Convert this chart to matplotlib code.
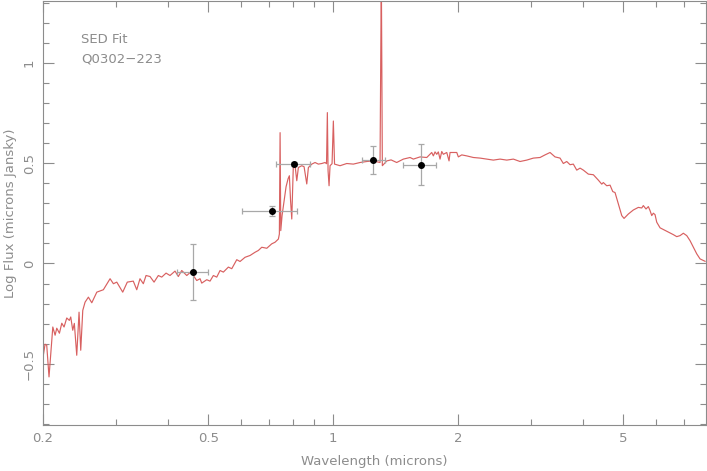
import matplotlib
matplotlib.use("Agg")
import matplotlib.pyplot as plt
from matplotlib.ticker import FixedLocator, NullFormatter, MultipleLocator
import numpy as np

# Model SED (wavelength in microns, log flux)
sed_wavelength = [
    0.2004, 0.2023, 0.2042, 0.2068, 0.2100, 0.2112, 0.2139, 0.2159, 0.2191, 0.2220,
    0.2248, 0.2282, 0.2315, 0.2333, 0.2359, 0.2380, 0.2412, 0.2443, 0.2466, 0.2494,
    0.2526, 0.2573, 0.2622, 0.2696, 0.2796, 0.2902, 0.2956, 0.3012, 0.3113, 0.3193,
    0.3301, 0.3365, 0.3426, 0.3490, 0.3543, 0.3622, 0.3704, 0.3793, 0.3865, 0.3959,
    0.4047, 0.4161, 0.4238, 0.4319, 0.4441, 0.4566, 0.4607, 0.4694, 0.4781, 0.4826,
    0.4962, 0.5053, 0.5147, 0.5245, 0.5342, 0.5441, 0.5594, 0.5701, 0.5861, 0.5969,
    0.6137, 0.6310, 0.6486, 0.6607, 0.6733, 0.6924, 0.7115, 0.7247, 0.7384, 0.7424,
    0.7454, 0.7482, 0.7536, 0.7620, 0.7705, 0.7792, 0.7848, 0.7900, 0.7953, 0.7989,
    0.8024, 0.8100, 0.8177, 0.8250, 0.8407, 0.8515, 0.8643, 0.8721, 0.8887, 0.9050,
    0.9217, 0.9393, 0.9566, 0.9645, 0.9689, 0.9727, 0.9781, 0.9835, 0.9945, 1.0017,
    1.0083, 1.0396, 1.0790, 1.1191, 1.1618, 1.2056, 1.2505, 1.2979, 1.3072, 1.3145,
    1.3473, 1.3799, 1.4235, 1.4770, 1.5329, 1.5614, 1.6204, 1.6818, 1.7290, 1.7446,
    1.7611, 1.7778, 1.7935, 1.8105, 1.8277, 1.8441, 1.8793, 1.9033, 1.9139, 1.9494,
    1.9866, 2.0042, 2.0424, 2.1000, 2.1783, 2.2610, 2.3465, 2.4340, 2.5259, 2.6219,
    2.7196, 2.8222, 2.9289, 3.0389, 3.1534, 3.2419, 3.3336, 3.4270, 3.5237, 3.5885,
    3.6568, 3.7249, 3.7933, 3.8657, 3.9376, 4.0101, 4.1233, 4.2390, 4.3581, 4.4412,
    4.4802, 4.5655, 4.6505, 4.7206, 4.7808, 4.8697, 4.9626, 5.0258, 5.1474, 5.2917,
    5.4408, 5.5445, 5.5933, 5.6776, 5.7511, 5.8056, 5.8608, 5.9124, 5.9685, 6.0256,
    6.1376, 6.3694, 6.6069, 6.7328, 6.8566, 6.9840, 7.1174, 7.2482, 7.3829, 7.5236,
    7.6618, 7.8780,
]
sed_logflux = [
    -0.458, -0.403, -0.408, -0.566, -0.383, -0.317, -0.358, -0.323, -0.348, -0.298,
    -0.317, -0.272, -0.284, -0.267, -0.333, -0.299, -0.458, -0.243, -0.433, -0.234,
    -0.193, -0.168, -0.196, -0.143, -0.131, -0.076, -0.101, -0.093, -0.143, -0.093,
    -0.088, -0.131, -0.076, -0.101, -0.060, -0.065, -0.093, -0.060, -0.068, -0.048,
    -0.060, -0.038, -0.065, -0.035, -0.060, -0.038, -0.060, -0.085, -0.076, -0.098,
    -0.081, -0.088, -0.060, -0.068, -0.035, -0.043, -0.018, -0.026, 0.019, 0.010,
    0.031, 0.040, 0.056, 0.065, 0.081, 0.076, 0.098, 0.106, 0.122, 0.147,
    0.653, 0.164, 0.239, 0.313, 0.383, 0.423, 0.438, 0.313, 0.222, 0.363,
    0.496, 0.488, 0.413, 0.479, 0.488, 0.483, 0.397, 0.479, 0.496, 0.504,
    0.496, 0.499, 0.504, 0.498, 0.753, 0.463, 0.388, 0.488, 0.498, 0.711,
    0.496, 0.488, 0.499, 0.496, 0.504, 0.509, 0.512, 0.504, 1.450, 0.488,
    0.512, 0.517, 0.504, 0.521, 0.529, 0.521, 0.532, 0.529, 0.554, 0.537,
    0.557, 0.545, 0.557, 0.521, 0.559, 0.545, 0.554, 0.512, 0.554, 0.554,
    0.554, 0.532, 0.542, 0.537, 0.529, 0.526, 0.521, 0.516, 0.521, 0.516,
    0.521, 0.509, 0.516, 0.526, 0.529, 0.542, 0.554, 0.532, 0.526, 0.499,
    0.509, 0.493, 0.496, 0.466, 0.476, 0.466, 0.446, 0.443, 0.416, 0.396,
    0.404, 0.388, 0.391, 0.359, 0.354, 0.297, 0.239, 0.225, 0.247, 0.267,
    0.280, 0.277, 0.289, 0.272, 0.284, 0.264, 0.239, 0.251, 0.244, 0.206,
    0.178, 0.161, 0.144, 0.134, 0.139, 0.151, 0.139, 0.114, 0.081, 0.048,
    0.023, 0.011,
]

# Photometry
phot_wavelength = [0.4607, 0.711, 0.8067, 1.251, 1.627]
phot_wave_lo = [0.4201, 0.605, 0.7289, 1.173, 1.477]
phot_wave_hi = [0.5006, 0.820, 0.8804, 1.335, 1.771]
phot_logflux = [-0.043, 0.264, 0.496, 0.516, 0.493]
phot_flux_lo = [-0.181, 0.239, 0.486, 0.446, 0.392]
phot_flux_hi = [0.098, 0.288, 0.506, 0.585, 0.596]

x_major = [0.2, 0.5, 1, 2, 5]
x_major_labels = ["0.2", "0.5", "1", "2", "5"]
x_minor = [0.3, 0.4, 0.6, 0.7, 0.8, 0.9, 3, 4, 6, 7]

grey = "#8c8c8c"
red = "#d86060"
fs = 9.5

fig = plt.figure(figsize=(7.07, 4.71), dpi=100)
ax = fig.add_axes([0.0608, 0.0977, 0.9378, 0.8993])

ax.plot(sed_wavelength, sed_logflux, color=red, lw=0.85, zorder=2)

pw = np.array(phot_wavelength)
pf = np.array(phot_logflux)
xerr = [pw - np.array(phot_wave_lo), np.array(phot_wave_hi) - pw]
yerr = [pf - np.array(phot_flux_lo), np.array(phot_flux_hi) - pf]
ax.errorbar(pw, pf, xerr=xerr, yerr=yerr, fmt="none", ecolor="#a8a8a8",
            elinewidth=0.9, capsize=2, capthick=0.9, zorder=3)
ax.plot(pw, pf, "o", color="black", ms=4, zorder=4)

ax.set_xscale("log")
ax.set_xlim(0.2, 7.92)
ax.set_ylim(-0.806, 1.308)

ax.xaxis.set_major_locator(FixedLocator(x_major))
ax.set_xticklabels(x_major_labels)
ax.xaxis.set_minor_locator(FixedLocator(x_minor))
ax.xaxis.set_minor_formatter(NullFormatter())
ax.yaxis.set_major_locator(FixedLocator([-0.5, 0, 0.5, 1]))
ax.set_yticklabels(["\u22120.5", "0", "0.5", "1"])
ax.yaxis.set_minor_locator(MultipleLocator(0.1))

ax.tick_params(which="both", direction="in", top=True, right=True,
               color=grey, labelcolor=grey, labelsize=fs, width=0.8)
ax.tick_params(which="major", length=8)
ax.tick_params(which="minor", length=4)
ax.tick_params(axis="x", which="major", pad=5)
ax.tick_params(axis="y", which="major", pad=5)
for lab in ax.get_yticklabels():
    lab.set_rotation(90)
    lab.set_va("center")

for s in ax.spines.values():
    s.set_color(grey)
    s.set_linewidth(0.8)

ax.set_xlabel("Wavelength (microns)", color=grey, fontsize=fs, labelpad=7)
ax.set_ylabel("Log Flux (microns Jansky)", color=grey, fontsize=fs, labelpad=4)

ax.text(0.2475, 1.12, "SED Fit", color=grey, fontsize=fs, va="center", ha="left")
ax.text(0.2475, 1.02, "Q0302\u2212223", color=grey, fontsize=fs, va="center", ha="left")

fig.savefig("out.png", dpi=100)
